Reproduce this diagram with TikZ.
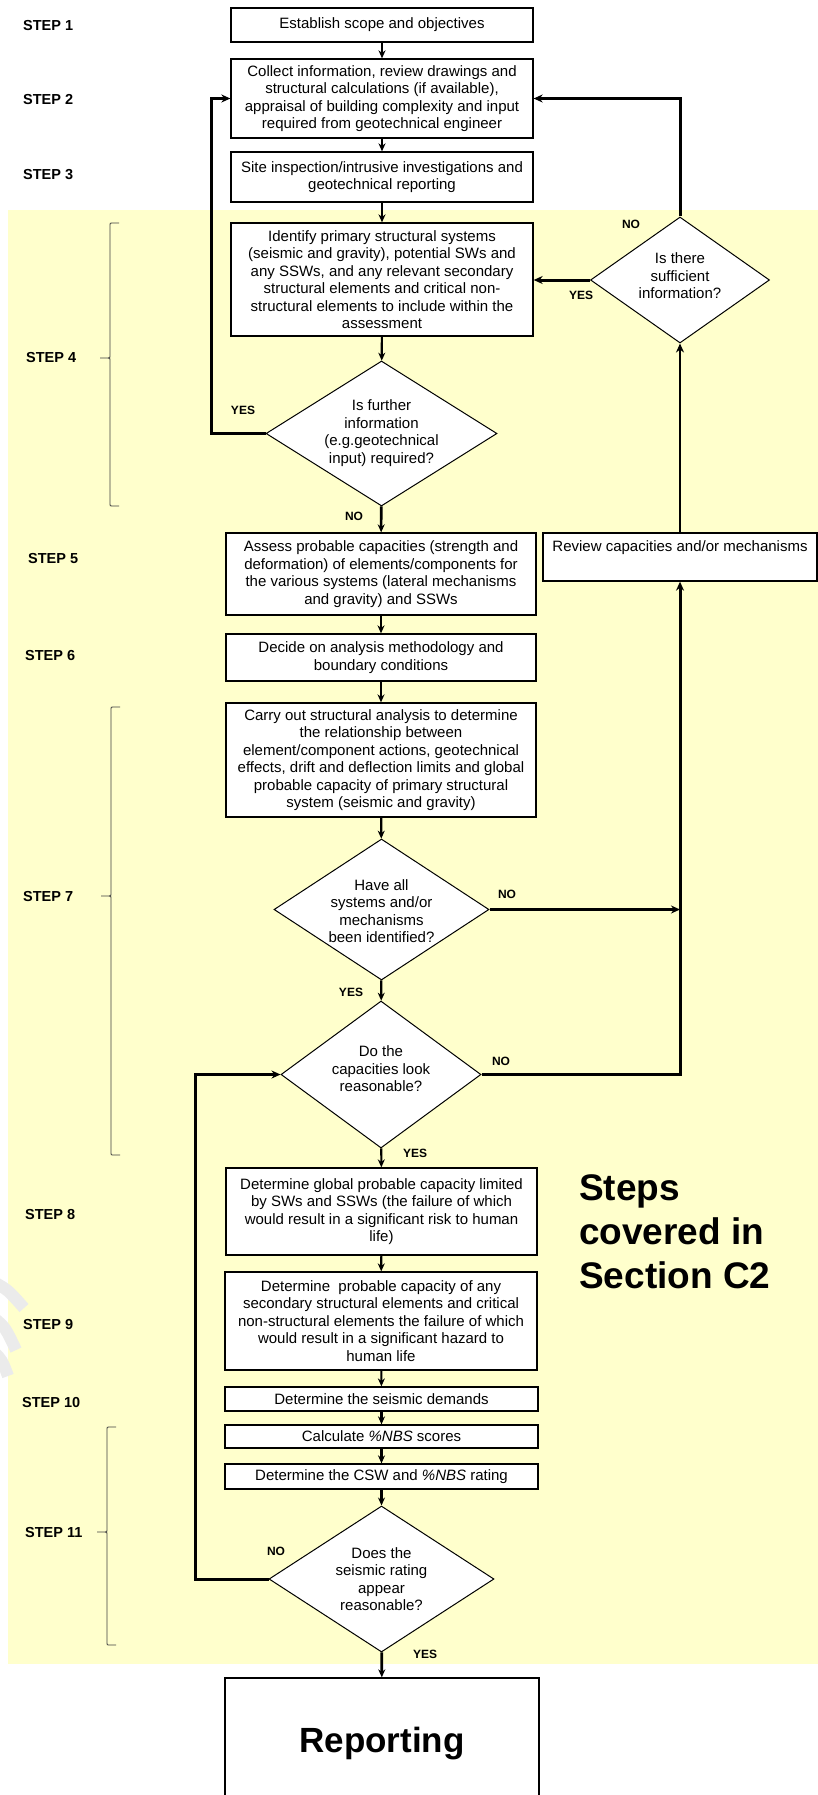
\documentclass[tikz,border=0pt]{standalone}
\usepackage{fontspec}
\setmainfont{Liberation Sans}
\usetikzlibrary{arrows.meta,shapes.geometric,calc}
\definecolor{bandyellow}{HTML}{FFFFCC}
\newcommand\mybrace[4]{%
  \draw[brace] (#1+9,#2) -- (#1+2,#2) .. controls (#1,#2) .. (#1,#2+2)
     -- (#1,#3-2) .. controls (#1,#3) .. (#1-2,#3) -- (#1-10,#3);
  \draw[brace] (#1-2,#3) .. controls (#1,#3) .. (#1,#3+2)
     -- (#1,#4-2) .. controls (#1,#4) .. (#1+2,#4) -- (#1+9,#4);}
\begin{document}
\begin{tikzpicture}[x=1pt,y=-1pt,
  box/.style={draw, fill=white, line width=1.3pt, align=center, inner sep=0pt,
              font=\fontsize{15}{17.5}\selectfont},
  dia/.style={draw, fill=white, diamond, line width=1pt, inner sep=0pt},
  dtext/.style={align=center, inner sep=0pt, font=\fontsize{15}{17.5}\selectfont},
  steplbl/.style={anchor=west, inner sep=0pt, font=\fontsize{14.5}{17}\selectfont\bfseries},
  yn/.style={inner sep=0pt, font=\fontsize{12}{14}\selectfont\bfseries},
  flow/.style={line width=2.1pt, -{Stealth[length=8pt,width=7pt]}},
  heavy/.style={line width=3pt, -{Stealth[length=9pt,width=8pt]}},
  brace/.style={line width=0.8pt, black!75},
  shade/.style={line width=12pt, black!8}
]
\useasboundingbox (0,0) rectangle (818,1795);
\clip (0,0) rectangle (818,1795);

% yellow band
\fill[bandyellow] (8,210) rectangle (818,1664);

% faint watermark strokes at left edge
\draw[shade] (-6,1282) .. controls (8,1290) .. (24,1308);
\draw[shade] (-6,1318) .. controls (5,1327) .. (16,1350);
\draw[shade] (-6,1352) .. controls (2,1360) .. (8,1376);

% step labels
\node[steplbl] (s1) at (23,26) {STEP 1};
\node[steplbl] (s2) at (23,100) {STEP 2};
\node[steplbl] (s3) at (23,175) {STEP 3};
\node[steplbl] (s4) at (26,358) {STEP 4};
\node[steplbl] (s5) at (28,559) {STEP 5};
\node[steplbl] (s6) at (25,656) {STEP 6};
\node[steplbl] (s7) at (23,896) {STEP 7};
\node[steplbl] (s8) at (25,1214) {STEP 8};
\node[steplbl] (s9) at (23,1324) {STEP 9};
\node[steplbl] (s10) at (22,1402) {STEP 10};
\node[steplbl] (s11) at (25,1532) {STEP 11};

% braces
\mybrace{110}{223}{358}{506}
\mybrace{111}{707}{896}{1155}
\mybrace{107}{1427}{1532}{1645}

% boxes
\node[box, minimum width=302, minimum height=34] (b1) at (382,25) {Establish scope and objectives};
\node[box, minimum width=302, minimum height=79] (b2) at (382,98.5)
  {Collect information, review drawings and\\structural calculations (if available),\\appraisal of building complexity and input\\required from geotechnical engineer};
\node[box, minimum width=302, minimum height=50] (b3) at (382,177)
  {Site inspection/intrusive investigations and\\geotechnical reporting};
\node[box, minimum width=302, minimum height=113] (b4) at (382,279.5)
  {Identify primary structural systems\\(seismic and gravity), potential SWs and\\any SSWs, and any relevant secondary\\structural elements and critical non-\\structural elements to include within the\\assessment};
\node[box, minimum width=310, minimum height=82] (b5) at (381,574)
  {Assess probable capacities (strength and\\deformation) of elements/components for\\the various systems (lateral mechanisms\\and gravity) and SSWs};
\node[box, minimum width=274, minimum height=48] (rev) at (680,557) {};
\node[dtext] (revt) at (680,548) {Review capacities and/or mechanisms};
\node[box, minimum width=310, minimum height=47] (b6) at (381,657.5)
  {Decide on analysis methodology and\\boundary conditions};
\node[box, minimum width=310, minimum height=114] (b7) at (381,760)
  {Carry out structural analysis to determine\\the relationship between\\element/component actions, geotechnical\\effects, drift and deflection limits and global\\probable capacity of primary structural\\system (seismic and gravity)};
\node[box, minimum width=311, minimum height=87] (b8) at (381.5,1211.5)
  {Determine global probable capacity limited\\by SWs and SSWs (the failure of which\\would result in a significant risk to human\\life)};
\node[box, minimum width=312, minimum height=98] (b9) at (381,1321)
  {Determine\ \ probable capacity of any\\secondary structural elements and critical\\non-structural elements the failure of which\\would result in a significant hazard to\\human life};
\node[box, minimum width=313, minimum height=24] (b10) at (381.5,1399) {Determine the seismic demands};
\node[box, minimum width=313, minimum height=23] (b11) at (381.5,1436.5) {Calculate \textit{\%NBS} scores};
\node[box, minimum width=313, minimum height=25] (b12) at (381.5,1476.5) {Determine the CSW and \textit{\%NBS} rating};
\node[box, minimum width=314, minimum height=132, font=\fontsize{35}{40}\selectfont\bfseries] (rep) at (382,1744) {Reporting};

% diamonds
\node[dia, minimum width=179, minimum height=126] (dR) at (680,280) {};
\node[dtext] (dRt) at (680,276) {Is there\\sufficient\\information?};
\node[dia, minimum width=231, minimum height=145] (d1) at (381.5,433.5) {};
\node[dtext] (d1t) at (381.5,433) {Is further\\information\\(e.g.geotechnical\\input) required?};
\node[dia, minimum width=215, minimum height=141] (d2) at (381.5,909.5) {};
\node[dtext] (d2t) at (381.5,911) {Have all\\systems and/or\\mechanisms\\been identified?};
\node[dia, minimum width=200, minimum height=147] (d3) at (381,1074.5) {};
\node[dtext] (d3t) at (381,1069) {Do the\\capacities look\\reasonable?};
\node[dia, minimum width=225, minimum height=146] (d4) at (381.5,1579) {};
\node[dtext] (d4t) at (381.5,1579) {Does the\\seismic rating\\appear\\reasonable?};

% big text
\node[anchor=north west, inner sep=0pt, align=left,
      font=\fontsize{37}{44}\selectfont\bfseries] (big) at (579,1174)
  {Steps\\covered in\\Section C2};

% loop coordinates
\coordinate (L1) at (211,0);
\coordinate (L2) at (195,0);

% main flow
\draw[flow] (b1) -- (b2);
\draw[flow] (b2) -- (b3);
\draw[flow] (b3) -- (b4);
\draw[flow] (b4) -- (d1);
\draw[flow, line width=2.6pt] (d1) -- (b5);
\draw[flow] (b5) -- (b6);
\draw[flow] (b6) -- (b7);
\draw[flow] (b7) -- (d2);
\draw[flow] (d2) -- (d3);
\draw[flow] (d3) -- (b8);
\draw[flow] (b8) -- (b9);
\draw[flow] (b9) -- (b10);
\draw[flow] (b10) -- (b11);
\draw[flow] (b11) -- (b12);
\draw[flow] (b12) -- (d4);
\draw[flow, line width=2.8pt] (d4) -- (rep);

% loops
\draw[heavy] (d1.west) -- (d1.west -| L1) -- (b2.west -| L1) -- (b2.west);
\draw[heavy] (dR.west) -- (dR.west -| b4.east);
\draw[heavy] (dR.north) |- (b2.east);
\draw[heavy, line width=2.8pt] (rev.north) -- (dR.south);
\draw[heavy] (d2.east) -- (d2.east -| rev.south);
\draw[heavy] (d3.east) -| (rev.south);
\draw[heavy] (d4.west) -- (d4.west -| L2) -- (d3.west -| L2) -- (d3.west);

% yes/no labels
\node[yn] (nR) at (631,224) {NO};
\node[yn] (yR) at (581,295) {YES};
\node[yn] (y1) at (243,410) {YES};
\node[yn] (n1) at (354,516) {NO};
\node[yn] (n2) at (507,894) {NO};
\node[yn] (y2) at (351,992) {YES};
\node[yn] (n3) at (501,1061) {NO};
\node[yn] (y3) at (415,1153) {YES};
\node[yn] (n4) at (276,1551) {NO};
\node[yn] (y4) at (425,1654) {YES};
\end{tikzpicture}
\end{document}
